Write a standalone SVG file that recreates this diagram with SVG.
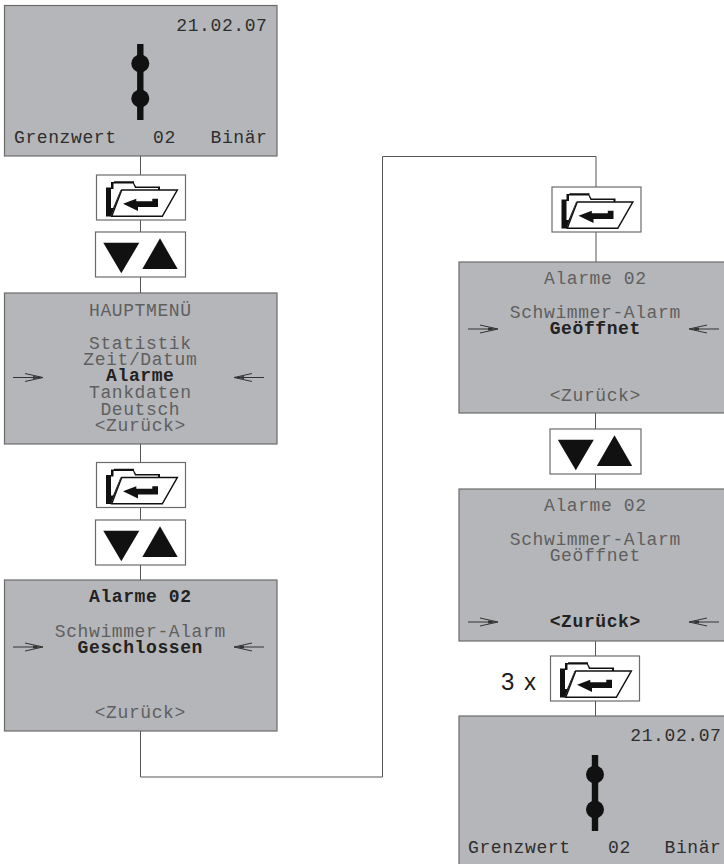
<svg xmlns="http://www.w3.org/2000/svg" xmlns:xlink="http://www.w3.org/1999/xlink" width="724" height="864" viewBox="0 0 724 864">
<style>
.panel{fill:#b5b6b9;stroke:#6b6b6b;stroke-width:1.2}
.box{fill:#fff;stroke:#6b6b6b;stroke-width:1.2}
.conn{fill:none;stroke:#555;stroke-width:1}
text{font-family:"Liberation Mono",monospace;font-size:18px;letter-spacing:.6px}
.m{fill:#5f5f5f;text-anchor:middle}
.b{fill:#222;text-anchor:middle;font-weight:bold}
.d{fill:#2e2e2e}
.e{text-anchor:end}
.three{font-family:"Liberation Sans",Arial,sans-serif;font-size:24px;letter-spacing:0;fill:#1a1a1a}
</style>
<defs>
<g id="folder">
<path d="M10 41.500V12.500H15V7H18V6.300H38V8L40 11.500H64V15H25L15 41.500Z" fill="#111"/>
<path d="M15 33V14H17.500V8.500H37L39 13H62V15H24.500L17 33Z" fill="#fff"/>
<path d="M25.700 15H81.300L66.300 41.300H15.700Z" fill="#fff" stroke="#111" stroke-width="1.500"/>
<path d="M27 28.700L40.300 23.700V26.300H56.300V23.700H62V32H42V36Z" fill="#111"/>
</g>
<g id="tri">
<path d="M7.800 10.700H43.800L25.800 41.300Z" fill="#111"/>
<path d="M64.500 6.300L82.200 37H46.800Z" fill="#111"/>
</g>
<g id="knob">
<rect x="-3.200" y="0" width="6.400" height="76" fill="#111"/>
<circle cx="0" cy="19.500" r="9" fill="#111"/>
<circle cx="0" cy="54.500" r="9" fill="#111"/>
</g>
<g id="pr"><path d="M0 0H22M12 -4L30 0L12 4" fill="none" stroke="#333" stroke-width="1"/><path d="M20 -1.500L30 0L20 1.500Z" fill="#333"/></g>
<g id="pl"><path d="M30 0H8M18 -4L0 0L18 4" fill="none" stroke="#333" stroke-width="1"/><path d="M10 -1.500L0 0L10 1.500Z" fill="#333"/></g>
</defs>
<g id="connectors">
<path class="conn" d="M140.500 156V293M140.500 444V580"/>
<path class="conn" d="M140.500 731V777H382.500V156.500H596V262"/>
<path class="conn" d="M595.500 413V489M595.500 641V716"/>
</g>
<g id="panel-1">
<rect class="panel" x="4.500" y="5.500" width="272.500" height="150.500"/>
<text class="d e" x="267.500" y="31">21.02.07</text>
<use xlink:href="#knob" x="140.300" y="44"/>
<text class="d" x="14" y="143">Grenzwert</text>
<text class="d" x="153" y="143">02</text>
<text class="d e" x="267.500" y="143">Binär</text>
</g>
<g id="folder-1"><rect class="box" x="96.500" y="175" width="89" height="45"/><use xlink:href="#folder" x="96" y="175"/></g>
<g id="arrows-1"><rect class="box" x="95.500" y="232" width="90" height="45"/><use xlink:href="#tri" x="95.500" y="232"/></g>
<g id="panel-2">
<rect class="panel" x="4.500" y="293" width="272.500" height="151"/>
<text class="m" x="140.300" y="316">HAUPTMENÜ</text>
<text class="m" x="140.300" y="349">Statistik</text>
<text class="m" x="140.300" y="365">Zeit/Datum</text>
<text class="b" x="140.300" y="381">Alarme</text>
<text class="m" x="140.300" y="398">Tankdaten</text>
<text class="m" x="140.300" y="415">Deutsch</text>
<text class="m" x="140.300" y="431">&lt;Zurück&gt;</text>
<use xlink:href="#pr" x="13" y="377.500"/>
<use xlink:href="#pl" x="234" y="377.500"/>
</g>
<g id="folder-2"><rect class="box" x="96.500" y="462.500" width="89" height="45"/><use xlink:href="#folder" x="96" y="462.500"/></g>
<g id="arrows-2"><rect class="box" x="95.500" y="520" width="90" height="45"/><use xlink:href="#tri" x="95.500" y="520"/></g>
<g id="panel-3">
<rect class="panel" x="4.500" y="580" width="272.500" height="151"/>
<text class="b" x="140.300" y="602">Alarme 02</text>
<text class="m" x="140.300" y="637">Schwimmer-Alarm</text>
<text class="b" x="140.300" y="653">Geschlossen</text>
<text class="m" x="140.300" y="718">&lt;Zurück&gt;</text>
<use xlink:href="#pr" x="13" y="647"/>
<use xlink:href="#pl" x="234" y="647"/>
</g>
<g id="folder-3"><rect class="box" x="552" y="187" width="89" height="45"/><use xlink:href="#folder" x="551.500" y="187"/></g>
<g id="panel-4">
<rect class="panel" x="459" y="262" width="270" height="151"/>
<text class="m" x="595.300" y="284">Alarme 02</text>
<text class="m" x="595.300" y="318">Schwimmer-Alarm</text>
<text class="b" x="595.300" y="334">Geöffnet</text>
<text class="m" x="595.300" y="401">&lt;Zurück&gt;</text>
<use xlink:href="#pr" x="468" y="329"/>
<use xlink:href="#pl" x="689" y="329"/>
</g>
<g id="arrows-3"><rect class="box" x="550" y="429" width="91" height="45"/><use xlink:href="#tri" x="550" y="429"/></g>
<g id="panel-5">
<rect class="panel" x="459" y="489" width="270" height="152"/>
<text class="m" x="595.300" y="511">Alarme 02</text>
<text class="m" x="595.300" y="545">Schwimmer-Alarm</text>
<text class="m" x="595.300" y="561">Geöffnet</text>
<text class="b" x="595.300" y="627">&lt;Zurück&gt;</text>
<use xlink:href="#pr" x="468" y="622"/>
<use xlink:href="#pl" x="689" y="622"/>
</g>
<g id="folder-4">
<text class="three" x="501" y="690" textLength="35">3 x</text>
<rect class="box" x="550.500" y="656" width="89" height="45"/><use xlink:href="#folder" x="550" y="656"/></g>
<g id="panel-6">
<rect class="panel" x="459" y="716" width="270" height="155"/>
<text class="d e" x="721.500" y="741">21.02.07</text>
<use xlink:href="#knob" x="595" y="755"/>
<text class="d" x="468" y="853">Grenzwert</text>
<text class="d" x="608" y="853">02</text>
<text class="d e" x="721.500" y="853">Binär</text>
</g>
</svg>
